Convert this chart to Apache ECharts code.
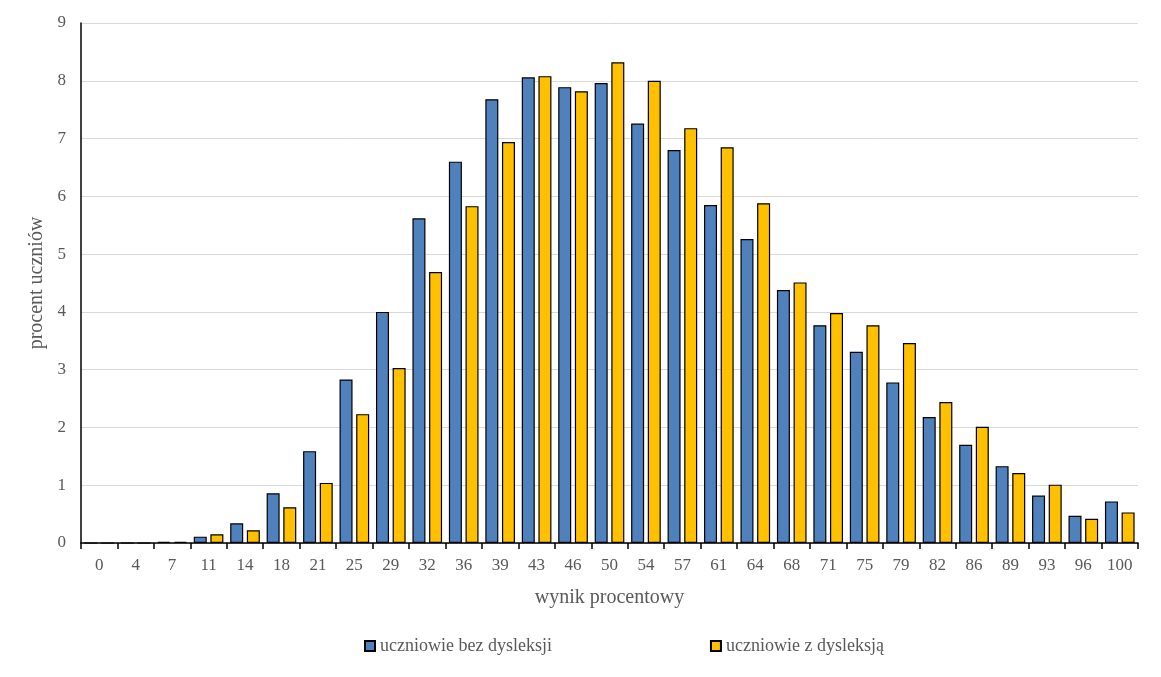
<!DOCTYPE html>
<html><head><meta charset="utf-8">
<script src="https://cdn.jsdelivr.net/npm/echarts@6/dist/echarts.min.js"></script>
<style>html,body{margin:0;padding:0;background:#fff}#c{width:1161px;height:677px}</style>
</head><body><div id="c"></div>
<script>
const categories = ['0','4','7','11','14','18','21','25','29','32','36','39','43','46','50','54','57','61','64','68','71','75','79','82','86','89','93','96','100'];
const bezDysleksji = [0,0,0.02,0.11,0.34,0.86,1.59,2.83,4.0,5.62,6.6,7.68,8.06,7.89,7.96,7.26,6.8,5.85,5.26,4.38,3.77,3.31,2.78,2.18,1.7,1.33,0.82,0.47,0.72];
const zDysleksja = [0,0,0.02,0.15,0.22,0.62,1.04,2.23,3.03,4.69,5.83,6.94,8.08,7.82,8.32,8.0,7.18,6.85,5.88,4.51,3.98,3.77,3.46,2.44,2.01,1.21,1.01,0.42,0.53];
const seriesNames = ['uczniowie bez dysleksji','uczniowie z dysleksją'];
const yTicks = [0,1,2,3,4,5,6,7,8,9];

const font = 'Liberation Serif, Times New Roman, serif';
const chart = echarts.init(document.getElementById('c'));
chart.setOption({
  animation:false,
  textStyle:{fontFamily:font},
  grid:{left:81,right:23,top:23,bottom:134},
  legend:{
    left:359, top:632, itemWidth:10, itemHeight:10, itemGap:158,
    textStyle:{fontFamily:font,fontSize:18,color:'#595959'},
    data:seriesNames.map(n=>({name:n,icon:'rect'}))
  },
  xAxis:{
    type:'category', data:categories,
    name:'wynik procentowy', nameLocation:'middle', nameGap:45,
    nameTextStyle:{fontFamily:font,fontSize:20,color:'#595959'},
    axisLine:{lineStyle:{color:'#000',width:1.5}},
    axisTick:{show:true,length:6,lineStyle:{color:'#000',width:1.5}},
    axisLabel:{fontFamily:font,fontSize:17,color:'#595959',margin:14}
  },
  yAxis:{
    type:'value', min:yTicks[0], max:yTicks[yTicks.length-1], interval:1,
    name:'procent uczniów', nameLocation:'middle', nameGap:30,
    nameTextStyle:{fontFamily:font,fontSize:20,color:'#595959'},
    axisLine:{show:true,lineStyle:{color:'#000',width:1.5}},
    axisTick:{show:false},
    axisLabel:{fontFamily:font,fontSize:17,color:'#595959',margin:15},
    splitLine:{lineStyle:{color:'#d9d9d9',width:1}}
  },
  series:[
    {name:seriesNames[0],type:'bar',data:bezDysleksji,barWidth:13,barGap:'28%',
     itemStyle:{color:'#4F81BD',borderColor:'#000',borderWidth:1.2}},
    {name:seriesNames[1],type:'bar',data:zDysleksja,barWidth:13,barGap:'28%',
     itemStyle:{color:'#FFC000',borderColor:'#000',borderWidth:1.2}}
  ]
});
</script></body></html>
